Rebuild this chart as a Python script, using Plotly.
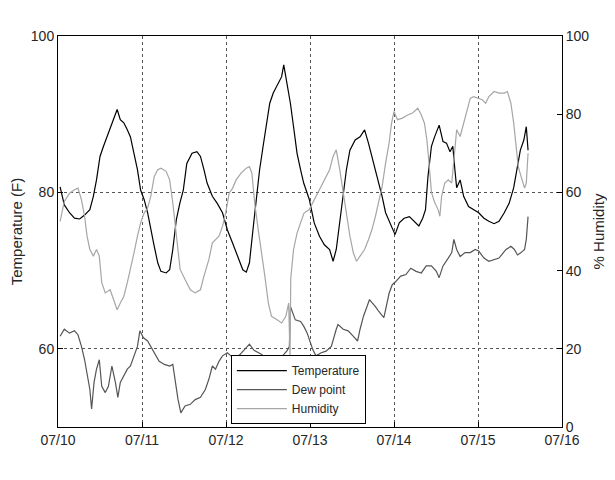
import pandas as pd
import plotly.graph_objects as go

start = pd.Timestamp("2013-07-10 00:00")

# Temperature (F): hours since 07/10 00:00, value
temp_hours = [0.6, 1.8, 3.3, 4.7, 6.2, 7.6, 9.1, 10.1, 11.0, 12.0, 13.0, 14.0, 14.9, 15.9, 16.9,
              17.8, 18.8, 19.8, 20.7, 21.7, 22.7, 23.6, 24.6, 25.6, 26.5, 27.5, 28.5, 29.4, 30.9,
              31.9, 32.8, 33.8, 34.8, 35.8, 36.8, 38.3, 39.7, 40.7, 41.7, 42.6, 44.1, 45.5, 47.0,
              48.4, 49.9, 51.3, 52.8, 53.8, 54.7, 55.7, 56.7, 57.6, 58.6, 59.6, 60.5, 61.5, 62.9,
              63.9, 64.5, 65.4, 66.4, 67.3, 68.3, 69.3, 70.2, 71.8, 73.2, 74.7, 76.1, 77.6, 78.6,
              79.5, 80.5, 81.5, 82.4, 83.4, 84.9, 86.3, 87.6, 88.7, 89.7, 90.7, 91.6, 92.6, 93.6,
              95.0, 96.3, 97.5, 98.9, 100.4, 101.8, 103.1, 104.2, 105.0, 105.7, 106.7, 107.6, 108.9,
              110.0, 111.0, 112.0, 112.8, 113.4, 113.9, 114.9, 115.9, 117.3, 118.8, 120.2, 121.7,
              123.1, 124.6, 126.0, 127.5, 128.9, 130.2, 131.2, 132.1, 133.1, 133.8, 134.3]
temp_vals = [80.7, 78.4, 77.4, 76.7, 76.6, 77.1, 77.8, 79.5, 81.6, 84.6, 85.9, 87.1, 88.0, 89.3, 90.6,
             89.3, 88.9, 88.0, 87.1, 85.0, 82.9, 80.3, 79.1, 77.4, 75.2, 73.1, 71.0, 69.9, 69.7,
             70.1, 72.7, 76.5, 78.6, 80.3, 83.7, 85.0, 85.2, 84.6, 82.9, 81.2, 79.5, 78.6, 77.4,
             75.2, 73.5, 71.8, 70.1, 69.8, 71.0, 75.2, 79.5, 82.9, 85.9, 88.9, 91.4, 92.7, 94.0,
             94.8, 96.3, 94.0, 91.4, 88.4, 85.0, 82.9, 81.2, 79.1, 76.1, 74.4, 73.3, 72.7, 71.2,
             72.7, 76.1, 79.5, 82.9, 85.4, 86.7, 87.1, 88.0, 86.3, 84.6, 82.9, 81.2, 79.5, 77.4,
             75.9, 74.6, 76.1, 76.7, 76.9, 76.3, 75.7, 76.7, 77.8, 82.0, 85.9, 87.1, 88.6,
             86.5, 86.3, 85.2, 85.9, 82.9, 80.6, 81.6, 79.5, 78.2, 77.8, 77.4, 76.7,
             76.3, 76.0, 76.3, 77.4, 78.6, 80.6, 83.3, 85.4, 86.7, 88.4, 85.4]

# Dew point (F)
dew_hours = [0.6, 1.8, 3.3, 4.7, 5.7, 6.7, 7.6, 8.6, 9.1, 9.6, 10.3, 11.0, 11.8, 12.5, 13.5, 14.4,
             15.4, 16.4, 17.1, 17.8, 18.8, 19.8, 20.7, 21.7, 22.7, 23.4, 24.4, 25.6, 27.0, 28.0,
             28.9, 30.4, 31.9, 32.8, 33.5, 34.3, 35.1, 36.3, 37.8, 39.2, 40.7, 42.1, 43.1, 44.1,
             45.0, 46.0, 47.0, 48.4, 49.4, 51.0, 52.5, 54.7, 56.0, 58.1, 60.0, 62.0, 64.0, 65.5,
             66.1, 66.4, 67.8, 69.3, 70.2, 71.2, 71.8, 72.8, 73.7, 75.2, 76.6, 78.1, 79.5, 80.0,
             81.5, 82.9, 84.4, 85.6, 86.3, 87.3, 88.3, 89.0, 89.7, 90.7, 91.6, 93.1, 93.6, 94.6,
             95.5, 96.5, 97.9, 99.4, 100.8, 102.3, 103.8, 105.2, 106.7, 108.1, 108.9, 110.0, 111.5,
             112.5, 113.1, 113.9, 114.9, 116.3, 117.8, 119.2, 120.2, 121.7, 123.1, 124.6, 126.0,
             128.0, 129.4, 130.4, 131.3, 132.3, 133.3, 133.8, 134.3]
dew_vals = [61.6, 62.5, 62.0, 62.3, 61.8, 60.3, 58.6, 56.1, 54.8, 52.3, 55.7, 57.4, 58.6, 55.2, 54.4, 55.2,
            57.8, 55.7, 53.8, 55.7, 56.5, 57.4, 57.8, 59.1, 60.3, 62.3, 61.4, 61.0, 59.9, 59.1,
            58.4, 58.0, 57.8, 58.0, 55.7, 53.5, 51.8, 52.7, 52.9, 53.5, 53.8, 54.8, 56.1, 57.8,
            57.4, 58.4, 59.1, 59.5, 59.1, 58.8, 59.5, 60.6, 59.8, 59.3, 58.5, 58.5, 59.0, 59.8,
            60.3, 65.4, 63.7, 63.5, 62.9, 62.0, 61.2, 59.9, 59.1, 59.5, 59.7, 60.3, 62.5, 63.1,
            62.5, 62.3, 61.6, 61.0, 62.5, 64.2, 65.4, 66.3, 65.9, 65.4, 64.8, 64.0, 65.0, 67.1,
            68.2, 68.6, 69.3, 69.5, 70.3, 69.9, 69.7, 70.6, 70.6, 69.9, 69.1, 70.6, 71.6,
            72.3, 74.0, 72.7, 71.8, 72.3, 72.3, 72.7, 72.5, 71.6, 71.2, 71.4, 71.6,
            72.7, 73.1, 72.7, 72.0, 72.3, 72.7, 74.0, 76.9]

# Humidity (%)
hum_hours = [0.6, 1.8, 3.3, 4.7, 5.7, 6.7, 7.6, 8.3, 9.1, 10.1, 11.0, 11.8, 12.5, 13.5, 14.9, 15.9,
             16.9, 17.8, 18.8, 19.8, 20.7, 21.7, 22.7, 23.6, 24.6, 25.6, 26.5, 27.5, 28.5, 29.4,
             30.9, 31.9, 32.8, 33.8, 34.9, 36.3, 37.8, 39.2, 40.7, 41.7, 43.1, 44.1, 45.0, 46.0,
             47.0, 47.9, 48.9, 49.9, 50.9, 52.3, 53.8, 54.7, 55.4, 56.2, 57.2, 58.1, 59.1, 60.1,
             61.0, 62.5, 63.9, 65.1, 65.9, 66.3, 66.5, 67.3, 68.3, 69.3, 70.3, 71.8, 73.2, 74.7,
             76.1, 77.6, 78.6, 79.5, 80.5, 81.5, 82.4, 83.4, 84.4, 85.3, 86.3, 87.6, 88.7, 89.7,
             90.7, 91.6, 92.6, 93.6, 94.6, 95.3, 96.0, 97.0, 98.4, 99.9, 101.3, 102.8, 103.8,
             104.7, 105.4, 106.0, 106.7, 107.6, 108.6, 109.1, 109.6, 110.5, 111.5, 112.5, 113.0,
             113.9, 114.9, 115.9, 116.8, 117.8, 118.8, 120.2, 121.2, 122.2, 123.1, 124.6, 126.0,
             127.5, 128.4, 129.4, 130.2, 130.9, 131.5, 132.3, 133.3, 133.8, 134.3]
hum_vals = [52.6, 57.7, 59.8, 60.7, 61.1, 58.1, 53.9, 48.8, 45.4, 43.7, 45.4, 43.7, 36.9, 34.3, 35.1, 32.6,
            30.0, 31.7, 33.4, 36.9, 40.3, 44.5, 48.8, 52.2, 54.7, 56.0, 59.0, 64.1, 65.8, 66.2,
            65.4, 63.2, 57.3, 48.8, 40.3, 37.7, 35.1, 34.3, 35.1, 38.6, 42.8, 47.1, 47.9, 48.8,
            51.3, 54.7, 59.8, 61.1, 63.2, 64.9, 66.2, 66.6, 64.9, 57.3, 50.5, 45.4, 38.6, 31.7,
            28.3, 27.5, 26.6, 28.3, 31.7, 18.0, 38.0, 45.4, 49.6, 52.2, 54.7, 55.6, 58.1, 60.7,
            63.2, 65.8, 69.2, 70.9, 65.8, 59.8, 53.9, 48.8, 44.5, 42.4, 43.7, 45.4, 47.9, 50.5,
            53.9, 57.3, 61.5, 67.5, 72.6, 77.7, 80.7, 78.6, 79.0, 79.8, 80.3, 81.5, 79.8,
            77.7, 73.4, 67.5, 60.0, 57.5, 55.6, 53.9, 59.0, 62.4, 63.2, 62.4, 67.5,
            76.0, 74.3, 77.7, 80.3, 84.1, 84.5, 84.1, 83.7, 82.8, 84.5, 85.8, 85.4,
            85.4, 85.8, 82.8, 77.7, 71.7, 66.6, 64.1, 61.1, 62.4, 70.0]

x_tick_labels = ["07/10", "07/11", "07/12", "07/13", "07/14", "07/15", "07/16"]
left_ticks = [60, 80, 100]
right_ticks = [0, 20, 40, 60, 80, 100]


def to_time(hours):
    return start + pd.to_timedelta(pd.Series(hours), unit="h")


FONT = "Liberation Sans, Arial, Helvetica, sans-serif"
TXT = "#262626"

fig = go.Figure()
fig.add_trace(go.Scatter(x=to_time(temp_hours), y=temp_vals, name="Temperature", mode="lines",
                         line=dict(color="#000000", width=1.2), yaxis="y"))
fig.add_trace(go.Scatter(x=to_time(dew_hours), y=dew_vals, name="Dew point", mode="lines",
                         line=dict(color="#555555", width=1.2), yaxis="y"))
fig.add_trace(go.Scatter(x=to_time(hum_hours), y=hum_vals, name="Humidity", mode="lines",
                         line=dict(color="#a6a6a6", width=1.2), yaxis="y2"))

tick_dates = [start + pd.Timedelta(days=i) for i in range(len(x_tick_labels))]

fig.update_layout(
    width=599, height=464,
    margin=dict(l=50, r=45, t=28, b=45, autoexpand=False),
    paper_bgcolor="white", plot_bgcolor="white",
    font=dict(family=FONT, size=14, color=TXT),
    showlegend=True,
    legend=dict(x=0.343, y=0.184, xanchor="left", yanchor="top",
                bgcolor="white", bordercolor="black", borderwidth=1,
                font=dict(family=FONT, size=12, color=TXT),
                itemwidth=50, tracegroupgap=0),
    xaxis=dict(type="date", range=[tick_dates[0], tick_dates[-1]],
               tickvals=tick_dates, ticktext=x_tick_labels,
               showgrid=True, gridcolor="#555555", griddash="dot", gridwidth=1,
               showline=True, linecolor="black", linewidth=1, mirror=True,
               ticks="inside", ticklen=5, tickcolor="black", zeroline=False,
               tickfont=dict(family=FONT, size=14, color=TXT)),
    yaxis=dict(range=[50, 100], tickvals=left_ticks,
               title=dict(text="Temperature (F)", font=dict(family=FONT, size=15, color=TXT), standoff=8),
               showgrid=True, gridcolor="#555555", griddash="dot", gridwidth=1,
               showline=True, linecolor="black", linewidth=1,
               ticks="inside", ticklen=5, tickcolor="black", zeroline=False,
               tickfont=dict(family=FONT, size=14, color=TXT)),
    yaxis2=dict(range=[0, 100], tickvals=right_ticks, overlaying="y", side="right",
                title=dict(text="% Humidity", font=dict(family=FONT, size=15, color=TXT), standoff=10),
                showgrid=False, showline=True, linecolor="black", linewidth=1,
                ticks="inside", ticklen=5, tickcolor="black", zeroline=False,
                tickfont=dict(family=FONT, size=14, color=TXT)),
)

fig.write_html("out.html")
